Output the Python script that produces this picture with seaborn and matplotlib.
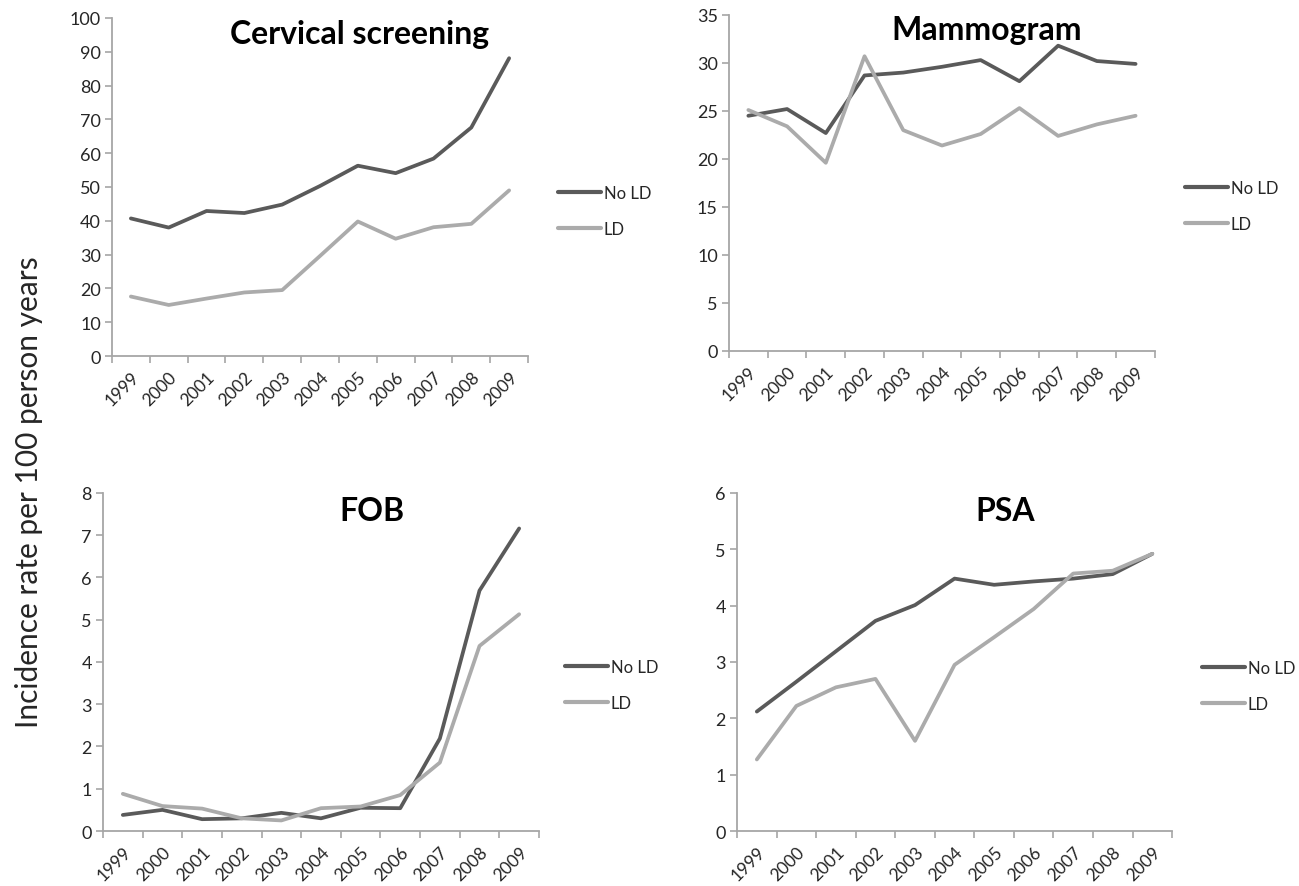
import numpy as np
import pandas as pd
import matplotlib
matplotlib.use("Agg")
import matplotlib.pyplot as plt
from matplotlib.ticker import FixedLocator, MultipleLocator
import seaborn as sns

years = ["1999", "2000", "2001", "2002", "2003", "2004", "2005", "2006", "2007", "2008", "2009"]

cervical_no_ld = [40.7, 38.0, 42.9, 42.3, 44.8, 50.3, 56.3, 54.1, 58.4, 67.6, 88.1]
cervical_ld = [17.6, 15.1, 17.0, 18.8, 19.5, 29.6, 39.8, 34.7, 38.1, 39.1, 49.0]

mammo_no_ld = [24.5, 25.2, 22.7, 28.7, 29.0, 29.6, 30.3, 28.1, 31.8, 30.2, 29.9]
mammo_ld = [25.1, 23.4, 19.6, 30.7, 23.0, 21.4, 22.6, 25.3, 22.4, 23.6, 24.5]

fob_no_ld = [0.38, 0.50, 0.28, 0.30, 0.43, 0.30, 0.55, 0.54, 2.19, 5.69, 7.16]
fob_ld = [0.88, 0.59, 0.53, 0.30, 0.25, 0.54, 0.58, 0.85, 1.62, 4.38, 5.13]

psa_no_ld = [2.12, 2.65, 3.19, 3.73, 4.01, 4.48, 4.37, 4.43, 4.48, 4.56, 4.92]
psa_ld = [1.27, 2.22, 2.55, 2.70, 1.60, 2.95, 3.44, 3.94, 4.57, 4.62, 4.92]

groups = ["No LD", "LD"]
titles = ["Cervical screening", "Mammogram", "FOB", "PSA"]
ylabel = "Incidence rate per 100 person years"

sns.set_style("white")
plt.rcParams["font.family"] = ["Lato", "DejaVu Sans"]

palette = {"No LD": "#5a5a5a", "LD": "#ababab"}
spine_col = "#a6a6a6"
text_col = "#262626"

fig = plt.figure(figsize=(12.99, 8.87), dpi=100)

panels = [
    dict(title=titles[0], a=cervical_no_ld, b=cervical_ld, ymax=100, step=10,
         pos=[0.0862, 0.5975, 0.3203, 0.3811], tpos=(0.596, 0.953), lpos=(1.072, 0.429)),
    dict(title=titles[1], a=mammo_no_ld, b=mammo_ld, ymax=35, step=5,
         pos=[0.5612, 0.6032, 0.3279, 0.3788], tpos=(0.606, 0.958), lpos=(1.070, 0.432)),
    dict(title=titles[2], a=fob_no_ld, b=fob_ld, ymax=8, step=1,
         pos=[0.0793, 0.0620, 0.3356, 0.3811], tpos=(0.617, 0.947), lpos=(1.060, 0.432)),
    dict(title=titles[3], a=psa_no_ld, b=psa_ld, ymax=6, step=1,
         pos=[0.5674, 0.0620, 0.3349, 0.3811], tpos=(0.616, 0.947), lpos=(1.069, 0.429)),
]

idx = np.arange(len(years))
for p in panels:
    ax = fig.add_axes(p["pos"])
    df = pd.DataFrame({
        "x": np.concatenate([idx, idx]),
        "value": list(p["a"]) + list(p["b"]),
        "Group": [groups[0]] * len(years) + [groups[1]] * len(years),
    })
    sns.lineplot(data=df, x="x", y="value", hue="Group", hue_order=groups,
                 palette=palette, linewidth=2.7, ax=ax, legend=True)
    ax.set_xlim(-0.5, len(years) - 0.5)
    ax.set_ylim(0, p["ymax"])
    ax.yaxis.set_major_locator(MultipleLocator(p["step"]))
    ax.set_xticks(idx)
    ax.set_xticklabels(years, rotation=45, ha="right", rotation_mode="anchor")
    ax.xaxis.set_minor_locator(FixedLocator(np.arange(-0.5, len(years), 1.0)))
    ax.tick_params(axis="x", which="major", length=0, labelsize=12.5, colors=text_col, pad=9)
    ax.tick_params(axis="x", which="minor", length=5, width=1.2, color=spine_col, direction="out", bottom=True)
    ax.tick_params(axis="y", which="major", length=5, width=1.2, color=spine_col, labelsize=13,
                   labelcolor=text_col, left=True, direction="out", pad=3)
    for s in ["top", "right"]:
        ax.spines[s].set_visible(False)
    for s in ["left", "bottom"]:
        ax.spines[s].set_color(spine_col)
        ax.spines[s].set_linewidth(1.3)
    ax.set_xlabel("")
    ax.set_ylabel("")
    ax.text(p["tpos"][0], p["tpos"][1], p["title"], transform=ax.transAxes,
            ha="center", va="center", fontsize=23, fontweight="bold", color="black")
    sns.move_legend(ax, loc="center left", bbox_to_anchor=p["lpos"], frameon=False, title=None,
                    fontsize=12, handlelength=2.6, handletextpad=0.15, labelspacing=1.2,
                    borderaxespad=0, borderpad=0)
    for t in ax.get_legend().get_texts():
        t.set_color(text_col)
    for h in ax.get_legend().legend_handles:
        h.set_linewidth(3)

fig.text(0.022, 0.445, ylabel, rotation=90, ha="center", va="center", fontsize=21.5, color=text_col)

fig.savefig("out.png", dpi=100, facecolor="white")
